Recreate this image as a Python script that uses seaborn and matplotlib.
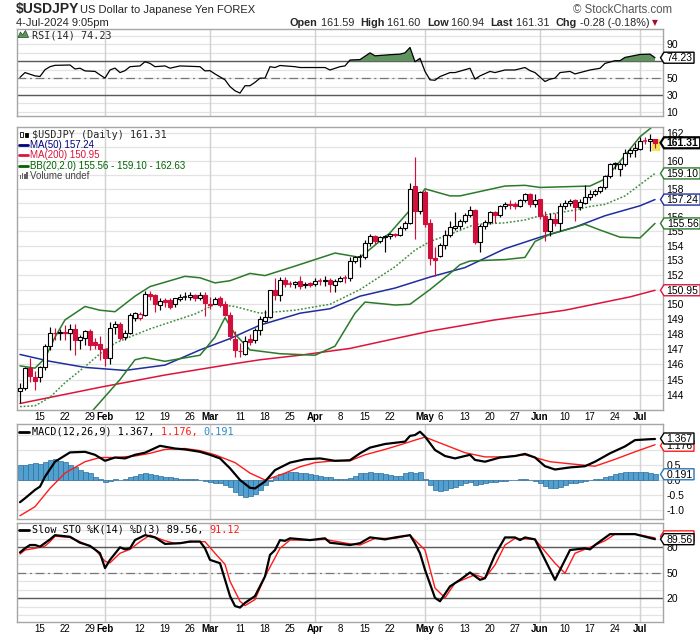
import numpy as np
import pandas as pd
import matplotlib
matplotlib.use("Agg")
import matplotlib.pyplot as plt
import seaborn as sns
from matplotlib.patches import Polygon, Rectangle
from matplotlib.lines import Line2D
from matplotlib.ticker import FixedLocator, FixedFormatter, NullLocator

# ---------------- data ----------------
dates = pd.bdate_range("2024-01-09", "2024-07-04")

opens = [144.25, 144.45, 145.75, 145.20, 145.15, 145.80, 147.20, 148.10, 148.05, 148.15,
         148.10, 148.35, 147.60, 147.75, 148.20, 147.50, 147.35, 147.00, 146.40, 148.50,
         148.65, 147.80, 148.05, 149.10, 149.10, 149.30, 150.70, 150.60, 149.95, 150.30,
         150.30, 150.00, 150.35, 150.50, 150.52, 150.60, 150.45, 150.65, 149.95, 150.05,
         150.40, 150.00, 149.30, 147.70, 146.90, 146.70, 147.65, 147.60, 148.30, 148.90,
         149.15, 151.00, 150.60, 151.65, 151.40, 151.40, 151.55, 151.30, 151.45, 151.35,
         151.60, 151.57, 151.65, 151.30, 151.60, 151.80, 151.80, 152.95, 153.22, 153.25,
         154.20, 154.70, 154.35, 154.60, 154.65, 154.85, 154.75, 155.25, 155.60, 158.20,
         156.40, 157.75, 155.60, 153.15, 153.30, 154.05, 154.75, 155.25, 155.35, 155.75,
         156.15, 156.50, 154.25, 155.35, 155.65, 156.35, 156.15, 156.75, 156.95, 156.90,
         156.80, 157.20, 157.60, 156.90, 157.25, 156.05, 155.05, 155.90, 155.60, 156.80,
         157.00, 157.20, 156.70, 157.00, 157.40, 157.65, 157.85, 158.10, 158.90, 159.85,
         159.40, 159.80, 160.55, 160.80, 160.85, 161.45, 161.45, 161.59]
highs = [144.75, 145.85, 146.45, 145.55, 145.90, 147.35, 148.50, 148.40, 148.35, 148.60,
         148.70, 148.70, 147.95, 148.30, 148.35, 147.75, 147.90, 147.10, 148.80, 148.90,
         148.80, 148.30, 149.40, 149.50, 149.50, 150.90, 150.90, 150.70, 150.40, 150.40,
         150.40, 150.45, 150.70, 150.80, 150.85, 150.70, 150.85, 150.80, 150.50, 150.50,
         150.55, 150.20, 149.45, 148.20, 147.40, 147.90, 148.00, 148.40, 149.20, 149.60,
         151.00, 151.80, 151.85, 151.85, 151.60, 151.55, 151.95, 151.50, 151.50, 151.80,
         151.80, 151.95, 151.80, 151.75, 151.90, 152.00, 153.20, 153.30, 153.45, 154.40,
         154.80, 154.75, 154.70, 154.75, 154.90, 154.90, 155.35, 155.75, 158.40, 160.25,
         157.85, 157.95, 155.90, 153.95, 154.20, 155.10, 155.75, 156.35, 155.90, 156.30,
         156.80, 156.60, 155.50, 155.80, 156.45, 156.45, 156.85, 157.10, 157.20, 157.10,
         157.30, 157.70, 157.70, 157.60, 157.30, 156.40, 156.30, 156.30, 157.00, 157.20,
         157.25, 157.30, 157.30, 158.25, 157.90, 158.00, 158.20, 159.00, 159.85, 159.95,
         159.90, 160.85, 160.90, 161.30, 161.70, 161.75, 161.95, 161.60]
lows = [143.45, 144.35, 144.85, 144.35, 144.85, 145.60, 146.95, 147.60, 147.60, 147.60,
        146.95, 146.60, 147.00, 147.30, 146.95, 147.00, 146.30, 145.90, 146.00, 148.00,
        147.60, 147.60, 148.00, 148.90, 148.95, 149.20, 150.30, 149.50, 149.60, 149.85,
        149.70, 149.80, 150.20, 150.30, 150.30, 150.20, 150.30, 149.20, 149.70, 150.00,
        149.85, 149.20, 147.60, 146.50, 146.50, 146.60, 147.30, 147.40, 147.95, 148.80,
        149.10, 150.30, 150.25, 151.20, 151.15, 151.10, 151.05, 151.10, 151.15, 151.25,
        151.30, 151.25, 150.80, 150.80, 151.50, 151.45, 151.60, 152.80, 152.55, 153.10,
        154.00, 154.10, 154.20, 153.60, 154.50, 154.60, 154.70, 155.10, 155.50, 154.50,
        156.20, 155.30, 152.65, 151.90, 153.20, 153.80, 154.60, 155.10, 155.20, 155.60,
        156.00, 154.10, 153.60, 155.20, 155.50, 155.60, 156.00, 156.60, 156.60, 156.55,
        156.70, 157.10, 156.70, 156.70, 155.90, 154.30, 154.70, 155.40, 155.00, 156.60,
        156.80, 155.70, 156.50, 156.90, 157.20, 157.50, 157.70, 158.00, 158.75, 159.40,
        158.95, 159.60, 160.30, 160.30, 160.80, 161.20, 160.75, 160.94]
closes = [144.45, 145.75, 145.25, 144.90, 145.80, 147.20, 148.10, 148.05, 148.15, 148.10,
          148.35, 147.60, 147.80, 148.20, 147.30, 147.25, 147.00, 146.40, 148.40, 148.70,
          147.75, 148.05, 149.30, 149.40, 149.35, 150.70, 150.55, 150.00, 150.25, 150.15,
          149.85, 150.40, 150.50, 150.52, 150.60, 150.45, 150.60, 150.10, 150.05, 150.35,
          149.95, 149.30, 147.85, 146.95, 146.85, 147.55, 147.50, 148.30, 149.00, 149.15,
          150.95, 150.60, 151.65, 151.40, 151.37, 151.50, 151.25, 151.40, 151.30, 151.60,
          151.57, 151.62, 151.35, 151.60, 151.80, 151.77, 152.95, 153.20, 153.25, 154.20,
          154.70, 154.35, 154.60, 154.65, 154.80, 154.75, 155.25, 155.60, 158.00, 156.40,
          157.75, 155.50, 153.15, 153.05, 154.05, 154.75, 155.30, 155.40, 155.75, 156.15,
          156.50, 154.25, 155.35, 155.65, 156.35, 156.15, 156.75, 156.90, 156.87, 156.82,
          157.20, 157.60, 156.90, 157.20, 156.05, 155.05, 155.85, 155.60, 156.75, 157.00,
          157.15, 156.70, 157.05, 157.40, 157.65, 157.85, 158.10, 158.90, 159.75, 159.75,
          159.80, 160.55, 160.80, 160.90, 161.45, 161.43, 161.59, 161.31]

ma50_idx = [0, 6, 13, 21, 29, 36, 42, 48, 56, 62, 68, 75, 82, 89, 97, 104, 111, 117, 124, 127]
ma50_val = [146.65, 146.2, 145.8, 145.6, 145.95, 146.95, 147.7, 148.6, 149.4, 149.7, 150.55,
            151.1, 151.85, 152.5, 153.8, 154.6, 155.3, 156.1, 156.8, 157.24]
ma200_idx = [0, 16, 29, 43, 48, 56, 66, 75, 82, 95, 109, 122, 127]
ma200_val = [143.45, 144.5, 145.3, 146.05, 146.3, 146.6, 147.05, 147.7, 148.2, 148.95, 149.6, 150.5, 150.95]
bbu_idx = [0, 3, 5, 7, 9, 13, 16, 19, 23, 26, 33, 36, 39, 42, 46, 49, 55, 63, 68, 74, 78, 81,
           86, 88, 97, 101, 104, 114, 117, 121, 124, 127]
bbu_val = [145.9, 145.75, 146.4, 147.8, 148.95, 149.85, 149.6, 149.5, 150.55, 151.2, 151.9, 151.8,
           151.45, 151.6, 152.1, 151.95, 152.6, 153.5, 153.2, 154.9, 156.5, 158.0, 157.5, 157.5,
           158.2, 158.25, 158.1, 158.2, 158.7, 160.4, 161.75, 162.63]
bbm_idx = [0, 3, 6, 9, 13, 16, 19, 23, 26, 35, 39, 43, 48, 55, 62, 68, 75, 79, 82, 86, 91, 97,
           101, 104, 111, 114, 117, 121, 124, 127]
bbm_val = [143.25, 143.3, 143.85, 144.8, 145.85, 146.7, 147.4, 147.95, 148.35, 149.35, 150.0,
           149.85, 149.4, 149.6, 150.0, 151.0, 152.55, 153.7, 154.3, 154.8, 155.5, 155.6, 155.8,
           156.1, 156.5, 156.75, 156.9, 157.5, 158.3, 159.10]
bbl_idx = [14, 20, 23, 25, 29, 36, 39, 41, 43, 46, 52, 59, 63, 67, 69, 75, 78, 82, 86, 88, 90,
           97, 101, 103, 106, 111, 113, 116, 120, 124, 127]
bbl_val = [142.8, 145.0, 146.3, 146.45, 146.2, 146.6, 147.8, 149.1, 148.0, 146.95, 146.7, 146.6,
           147.2, 149.4, 150.15, 149.95, 150.0, 151.0, 152.1, 152.7, 152.95, 153.05, 153.2, 154.3,
           154.8, 155.3, 155.5, 155.1, 154.6, 154.55, 155.56]

rsi_idx = [0, 1, 3, 4, 5, 6, 7, 10, 11, 12, 13, 15, 16, 17, 18, 19, 20, 21, 22, 24, 25, 26, 27,
           29, 30, 32, 36, 37, 38, 39, 41, 42, 43, 44, 45, 46, 47, 48, 49, 50, 51, 52, 55, 56, 58,
           61, 62, 64, 65, 66, 68, 70, 71, 74, 76, 77, 78, 79, 80, 81, 82, 83, 84, 86, 87, 90, 91,
           92, 94, 95, 97, 99, 101, 102, 103, 105, 106, 107, 108, 110, 111, 114, 116, 117, 119,
           120, 121, 124, 126, 127]
rsi_val = [51, 56.6, 52.7, 52.0, 60, 63.6, 65.2, 65.6, 60.9, 61.8, 58.6, 58.0, 53.9, 50.0, 59.7,
           61.9, 56.6, 58.9, 63.6, 64.5, 69.5, 67.5, 63.6, 64.5, 61.8, 64.5, 63.6, 58.6, 58.9, 55.0,
           48, 40, 35, 32.3, 41, 41, 45, 50, 50, 63.6, 62.6, 65, 63.6, 62.6, 62.6, 62.6, 59.7, 63.6,
           64.5, 71.5, 72, 80, 76.5, 77.8, 78.5, 80, 86.4, 69.5, 73.5, 58, 48, 47.5, 51.9, 56.6,
           56.6, 61.7, 48.8, 52.7, 58, 56.6, 59.7, 59.7, 62.6, 58.9, 56.6, 46, 48.8, 50, 56.6, 58,
           55, 59.7, 61.7, 67.5, 70.7, 70.7, 74.6, 78.1, 78.5, 74.23]

macd_idx = [0, 1, 3, 4, 5, 7, 10, 13, 15, 17, 19, 21, 23, 25, 28, 31, 33, 36, 38, 40, 42, 44, 46,
            47, 49, 51, 54, 57, 60, 63, 66, 68, 70, 73, 77, 78, 79, 80, 81, 83, 85, 87, 90, 91, 93,
            96, 99, 101, 103, 105, 107, 110, 113, 115, 118, 121, 123, 126, 127]
macd_val = [-0.74, -0.61, -0.33, -0.22, 0.11, 0.61, 0.92, 0.94, 0.84, 0.64, 0.75, 0.72, 0.84, 0.91,
            1.14, 1.05, 1.02, 0.94, 0.84, 0.72, 0.39, 0.0, -0.26, -0.28, -0.05, 0.33, 0.58, 0.69,
            0.72, 0.64, 0.66, 0.89, 1.08, 1.20, 1.28, 1.47, 1.50, 1.61, 1.45, 1.00, 0.80, 0.72,
            0.84, 0.67, 0.61, 0.75, 0.80, 0.87, 0.75, 0.46, 0.35, 0.42, 0.46, 0.61, 0.89, 1.12,
            1.33, 1.36, 1.367]
sig_idx = [0, 3, 6, 9, 13, 16, 19, 23, 26, 29, 33, 36, 39, 43, 46, 49, 51, 53, 56, 59, 63, 66, 69,
           73, 76, 79, 81, 85, 89, 93, 97, 101, 106, 110, 115, 119, 123, 127]
sig_val = [-1.19, -0.89, -0.28, 0.23, 0.61, 0.75, 0.75, 0.80, 0.89, 1.02, 1.05, 0.98, 0.84, 0.58,
           0.23, 0.0, 0.11, 0.23, 0.44, 0.58, 0.64, 0.64, 0.84, 1.02, 1.17, 1.33, 1.43, 1.17, 0.91,
           0.77, 0.77, 0.84, 0.61, 0.54, 0.46, 0.69, 0.94, 1.176]
hist_val = [0.50, 0.50, 0.54, 0.56, 0.54, 0.59, 0.67, 0.70, 0.64, 0.59, 0.50, 0.44, 0.33, 0.28,
            0.23, 0.11, 0.05, -0.05, -0.02, 0.02, 0.00, 0.02, 0.09, 0.13, 0.20, 0.23, 0.20, 0.17,
            0.13, 0.11, 0.09, 0.06, 0.04, 0.03, 0.02, 0.02, 0.00, -0.02, -0.05, -0.09, -0.11,
            -0.15, -0.23, -0.39, -0.50, -0.56, -0.52, -0.45, -0.32, -0.18, -0.04, 0.10, 0.20,
            0.25, 0.28, 0.28, 0.25, 0.23, 0.20, 0.17, 0.13, 0.11, 0.09, 0.05, 0.02, 0.02, 0.07,
            0.13, 0.22, 0.25, 0.28, 0.25, 0.23, 0.20, 0.17, 0.13, 0.13, 0.25, 0.28, 0.23, 0.28,
            0.02, -0.16, -0.33, -0.36, -0.33, -0.28, -0.23, -0.16, -0.11, -0.05, -0.16, -0.14,
            -0.11, -0.08, -0.05, -0.03, -0.02, 0.00, 0.00, 0.02, 0.02, 0.00, -0.03, -0.11, -0.20,
            -0.25, -0.26, -0.23, -0.16, -0.11, -0.09, -0.05, -0.02, 0.00, 0.02, 0.05, 0.09, 0.13,
            0.19, 0.23, 0.26, 0.28, 0.28, 0.28, 0.28, 0.25, 0.191]

stok_idx = [0, 1, 2, 3, 4, 6, 7, 10, 12, 14, 16, 17, 18, 20, 21, 22, 23, 25, 27, 29, 32, 34, 36,
            37, 38, 40, 41, 42, 43, 44, 45, 47, 49, 50, 51, 52, 53, 54, 58, 61, 62, 66, 68, 70, 73,
            75, 78, 79, 80, 81, 83, 84, 86, 88, 90, 92, 93, 95, 97, 99, 100, 101, 103, 106, 107,
            110, 113, 114, 115, 118, 121, 123, 127]
stok_val = [74, 78.8, 82.7, 82.7, 80.8, 89.3, 94.3, 92.4, 85.4, 81.7, 73, 55.5, 65.2, 80, 77.6,
            78.8, 88.5, 94.3, 91.6, 84, 84.8, 86.8, 86.8, 78.8, 65.2, 61.3, 42, 22.6, 10.9, 9.1,
            14.6, 22.6, 45.7, 71, 76.8, 88.5, 87.6, 90.6, 88.5, 90.6, 85.4, 82.7, 84.8, 91.7, 89.3,
            91.6, 94.3, 84.6, 73, 53.5, 20.5, 16.5, 34, 41.7, 50.4, 41.7, 43.6, 71, 91.6, 91.6,
            88.5, 91.6, 89.3, 53.5, 41.7, 76.8, 78.8, 77.6, 82.7, 95.5, 95.5, 95.5, 89.56]
stod_idx = [0, 1, 3, 5, 6, 7, 10, 13, 15, 17, 18, 20, 22, 24, 26, 29, 31, 35, 37, 39, 41, 42, 44,
            45, 47, 49, 52, 54, 58, 61, 66, 68, 71, 75, 78, 81, 83, 85, 87, 91, 93, 95, 97, 99, 103,
            107, 109, 111, 114, 117, 119, 123, 127]
stod_val = [72, 76.8, 78.8, 81.5, 86.6, 93, 91.6, 84, 77.6, 63.6, 61.7, 73, 77.6, 86.6, 94.3, 87.7,
            84.6, 86.6, 86.6, 73, 60, 40, 16.5, 11.4, 18.5, 45.7, 78.8, 88.5, 88.5, 89.3, 84, 82.7,
            90.5, 90.5, 94.3, 76.8, 32.1, 20.5, 38, 47.7, 43.6, 59.3, 82.7, 90.5, 89.3, 61.3, 49.6,
            73, 80, 87.7, 95.5, 95.5, 91.12]

month_idx = [17, 38, 59, 81, 104, 124]
xtick_idx = [4, 9, 14, 17, 24, 29, 34, 38, 44, 49, 54, 59, 64, 69, 74, 81, 84, 89, 94, 99, 104,
             109, 114, 119, 124]
xtick_lab = ["15", "22", "29", "Feb", "12", "19", "26", "Mar", "11", "18", "25", "Apr", "8", "15",
             "22", "May", "6", "13", "20", "27", "Jun", "10", "17", "24", "Jul"]

rsi_ticks = [10, 30, 50, 70, 90]
price_ticks = list(range(144, 163))
macd_ticks = [-1.0, -0.5, 0.0, 0.5, 1.0, 1.5]
sto_ticks = [20, 50, 80]

# ---------------- style ----------------
sns.set_style("white")
plt.rcParams['font.family'] = ['Liberation Sans', 'DejaVu Sans']

W, H = 700, 639
fig = plt.figure(figsize=(W / 100, H / 100), dpi=100)
fig.patch.set_facecolor('white')
renderer = fig.canvas.get_renderer()


def fx(x):
    return x / W


def fy(y):
    return 1 - y / H


def add_ax(l, t, r, b):
    return fig.add_axes([l / W, 1 - b / H, (r - l) / W, (b - t) / H])


GRID = '#e3e3e3'
VGRID = '#d2d2d2'
SPINE = '#a6a6a6'
RED = '#d0103a'
n = len(closes)


def val_to_py(ax, v):
    return H - ax.transData.transform((0, v))[1]


def style(ax, ylim, ticks, labels, grid_vals, tag_vals=()):
    ax.set_xlim(-0.6, 128.6)
    ax.set_ylim(*ylim)
    ax.set_facecolor('white')
    for s in ax.spines.values():
        s.set_color(SPINE)
        s.set_linewidth(1.0)
    ax.tick_params(axis='x', bottom=False, labelbottom=False)
    ax.yaxis.tick_right()
    shown = []
    for t, lab in zip(ticks, labels):
        ty = val_to_py(ax, t)
        if any(abs(ty - val_to_py(ax, v)) < 5.5 for v in tag_vals):
            shown.append('')
        else:
            shown.append(lab)
    ax.yaxis.set_major_locator(FixedLocator(ticks))
    ax.yaxis.set_major_formatter(FixedFormatter(shown))
    ax.yaxis.set_minor_locator(NullLocator())
    ax.tick_params(axis='y', which='both', length=0, pad=2.5, labelsize=7.5, colors='black')
    for g in grid_vals:
        ax.axhline(g, color=GRID, lw=0.9, zorder=0)
    for m in month_idx:
        ax.axvline(m, color=VGRID, lw=0.9, zorder=0)
    ax.set_xlabel('')
    ax.set_ylabel('')


ax_rsi = add_ax(17, 29, 663, 116)
ax_main = add_ax(17, 127, 663, 410)
ax_macd = add_ax(17, 424, 663, 519)
ax_sto = add_ax(17, 523, 663, 622)

rsi_tags = [rsi_val[-1]]
main_tags = [closes[-1], bbm_val[-1], ma50_val[-1], bbl_val[-1], ma200_val[-1]]
macd_tags = [macd_val[-1], sig_val[-1], hist_val[-1]]
sto_tags = [stok_val[-1], stod_val[-1]]

# ---------------- RSI ----------------
style(ax_rsi, (5.1, 108.3), rsi_ticks, [str(t) for t in rsi_ticks], list(range(10, 101, 10)))
ax_rsi.axhline(70, color='#5a5a5a', lw=1.0, zorder=1)
ax_rsi.axhline(30, color='#5a5a5a', lw=1.0, zorder=1)
ax_rsi.axhline(50, color='#777777', lw=0.9, ls=(0, (7, 3, 1.5, 3)), zorder=1)
rsi_arr = np.array(rsi_val, dtype=float)
ax_rsi.fill_between(rsi_idx, rsi_arr, 70, where=rsi_arr > 70, interpolate=True,
                    color='#5f945f', lw=0, zorder=2)
sns.lineplot(x=rsi_idx, y=rsi_val, ax=ax_rsi, color='black', lw=0.9, zorder=3, legend=False)
style(ax_rsi, (5.1, 108.3), rsi_ticks, [str(t) for t in rsi_ticks], [], rsi_tags)

# ---------------- main price ----------------
ax_main.set_yscale('log')
style(ax_main, (143.03, 162.46), price_ticks, [str(t) for t in price_ticks], list(range(143, 163)))

ax_main.add_patch(Rectangle((126.45, 160.74), 1.45, 0.82, fc='#f3e35a', ec='none', zorder=1))

sns.lineplot(x=ma200_idx, y=ma200_val, ax=ax_main, color='#dc143c', lw=1.1, zorder=2, legend=False)
sns.lineplot(x=ma50_idx, y=ma50_val, ax=ax_main, color='#1f2e9c', lw=1.1, zorder=2, legend=False)
sns.lineplot(x=bbu_idx, y=bbu_val, ax=ax_main, color='#2a7a2a', lw=1.1, zorder=2, legend=False)
sns.lineplot(x=bbl_idx, y=bbl_val, ax=ax_main, color='#2a7a2a', lw=1.1, zorder=2, legend=False)
sns.lineplot(x=bbm_idx, y=bbm_val, ax=ax_main, color='#3f8f3f', lw=1.1, ls=(0, (1.2, 1.2)),
             zorder=2, legend=False)

prev_close = [opens[0]] + closes[:-1]
edge_cols, fill_cols, body_idx, body_bot, body_h = [], [], [], [], []
for k in range(n):
    o, h, l, c = opens[k], highs[k], lows[k], closes[k]
    ec = RED if c < prev_close[k] else 'black'
    fc = 'white' if c >= o else ec
    ax_main.vlines(k, l, h, color=ec, lw=0.85, zorder=3)
    if abs(c - o) < 0.04:
        ax_main.hlines(c, k - 0.45, k + 0.45, color=ec, lw=1.1, zorder=4)
    else:
        body_idx.append(k)
        body_bot.append(min(o, c))
        body_h.append(abs(c - o))
        edge_cols.append(ec)
        fill_cols.append(fc)
ax_main.bar(body_idx, body_h, bottom=body_bot, width=0.76, color=fill_cols,
            edgecolor=edge_cols, linewidth=0.8, zorder=4)
style(ax_main, (143.03, 162.46), price_ticks, [str(t) for t in price_ticks], [], main_tags)

# ---------------- MACD ----------------
macd_labels = ['-1.0', '-0.5', '0.0', '0.5', '1.0', '1.5']
style(ax_macd, (-1.3, 1.867), macd_ticks, macd_labels, macd_ticks)
ax_macd.bar(range(n), hist_val, width=1.0, color='#52a0d0', edgecolor='#2f6f9c',
            linewidth=0.5, zorder=2)
sns.lineplot(x=sig_idx, y=sig_val, ax=ax_macd, color='#ff1a1a', lw=1.0, zorder=3, legend=False)
sns.lineplot(x=macd_idx, y=macd_val, ax=ax_macd, color='black', lw=1.6, zorder=4, legend=False)
style(ax_macd, (-1.3, 1.867), macd_ticks, macd_labels, [], macd_tags)

# ---------------- Slow STO ----------------
style(ax_sto, (-7.9, 108.6), sto_ticks, [str(t) for t in sto_ticks], list(range(0, 101, 10)))
ax_sto.axhline(80, color='#5a5a5a', lw=1.0, zorder=1)
ax_sto.axhline(20, color='#5a5a5a', lw=1.0, zorder=1)
ax_sto.axhline(50, color='#777777', lw=0.9, ls=(0, (7, 3, 1.5, 3)), zorder=1)
sns.lineplot(x=stod_idx, y=stod_val, ax=ax_sto, color='#ff1a1a', lw=1.0, zorder=3, legend=False)
sns.lineplot(x=stok_idx, y=stok_val, ax=ax_sto, color='black', lw=1.6, zorder=4, legend=False)
style(ax_sto, (-7.9, 108.6), sto_ticks, [str(t) for t in sto_ticks], [], sto_tags)


# ---------------- x labels ----------------
def xlabels(ax, base_y):
    for k, lab in zip(xtick_idx, xtick_lab):
        xd = ax.transData.transform((k, ax.get_ylim()[0]))[0]
        fig.text(xd / W, fy(base_y), lab, ha='center', va='baseline', fontsize=7,
                 weight='bold' if lab.isalpha() else 'normal', color='black')


xlabels(ax_main, 420.5)
xlabels(ax_sto, 632)


# ---------------- helpers ----------------
def fig_line(x0, x1, y, color, lw=2.0):
    fig.add_artist(Line2D([fx(x0), fx(x1)], [fy(y), fy(y)], transform=fig.transFigure,
                          color=color, lw=lw))


def fig_rect(x, y, w, h, fc, ec='none', lw=0.8):
    fig.add_artist(Rectangle((fx(x), fy(y + h)), w / W, h / H, transform=fig.transFigure,
                             fc=fc, ec=ec, lw=lw))


def text_run(x, base_y, pieces, **kw):
    """Draw consecutive coloured text pieces on one baseline; returns right edge."""
    for s, col in pieces:
        t = fig.text(fx(x), fy(base_y), s, color=col, va='baseline', **kw)
        x = t.get_window_extent(renderer).x1
    return x


def tag(ax, v, text, ec, bold=False, lw=1.0, z=20, dy=0.0, show_text=True):
    yc = val_to_py(ax, v) + dy
    xt, x0 = 660.5, 664.0
    w = 6.2 * len(text) - 1
    h = 5.5
    pts = [(fx(xt), fy(yc)), (fx(x0), fy(yc - h)), (fx(x0 + w), fy(yc - h)),
           (fx(x0 + w), fy(yc + h)), (fx(x0), fy(yc + h))]
    fig.add_artist(Polygon(pts, closed=True, transform=fig.transFigure, fc='white', ec=ec,
                           lw=lw, zorder=z))
    if show_text:
        fig.text(fx(x0 + w / 2 + 0.5), fy(yc + 3.6), text, ha='center', va='baseline',
                 fontsize=7.5, weight='bold' if bold else 'normal', color='black', zorder=z + 1)


# ---------------- header ----------------
fig.text(fx(16), fy(13), "$USDJPY", fontsize=10, weight='bold', va='baseline')
fig.text(fx(80), fy(13), "US Dollar to Japanese Yen FOREX", fontsize=8, va='baseline')
fig.text(fx(16), fy(26), "4-Jul-2024 9:05pm", fontsize=8, va='baseline')
fig.text(fx(573), fy(13), "\u00a9 StockCharts.com", fontsize=8.3, color='#555555', va='baseline')
hdr = [("Open", True), (" 161.59  ", False), ("High", True), (" 161.60  ", False),
       ("Low", True), (" 160.94  ", False), ("Last", True), (" 161.31  ", False),
       ("Chg", True), (" -0.28 (-0.18%)", False)]
xh = 290
for s, b in hdr:
    t = fig.text(fx(xh), fy(26), s, fontsize=7.8, weight='bold' if b else 'normal', va='baseline')
    xh = t.get_window_extent(renderer).x1
fig.text(fx(xh + 2.5), fy(25.5), "\u25bc", fontsize=5.5, color='#a0102a', va='baseline',
         family='DejaVu Sans')

# ---------------- panel legends ----------------
MONO = 'DejaVu Sans Mono'
fig.add_artist(Polygon([(fx(18), fy(37.5)), (fx(20.5), fy(32)), (fx(22.5), fy(35)),
                        (fx(25.5), fy(30.5)), (fx(28.5), fy(37.5))], closed=True,
                       transform=fig.transFigure, fc='#5f945f', ec='#2f5f2f', lw=0.6))
fig.text(fx(32), fy(38), f"RSI(14) {rsi_val[-1]:.2f}", fontsize=7.3, family=MONO, va='baseline')

fig_rect(19.5, 131.5, 3, 5, 'white', 'black', 0.6)
fig_rect(24.5, 132.5, 3, 4, 'black', 'black', 0.6)
fig.text(fx(32), fy(137.5), f"$USDJPY (Daily) {closes[-1]:.2f}", fontsize=7.3, family=MONO,
         va='baseline')
fig_line(19, 28, 144.8, '#000080')
fig.text(fx(29.5), fy(148), f"MA(50) {ma50_val[-1]:.2f}", fontsize=7, color='#000080', va='baseline')
fig_line(19, 28, 155.3, '#dc143c')
fig.text(fx(29.5), fy(158.5), f"MA(200) {ma200_val[-1]:.2f}", fontsize=7, color='#dc143c',
         va='baseline')
fig_line(19, 28, 165.8, '#006400')
fig.text(fx(29.5), fy(169),
         f"BB(20,2.0) {bbl_val[-1]:.2f} - {bbm_val[-1]:.2f} - {bbu_val[-1]:.2f}",
         fontsize=7, color='#006400', va='baseline')
for i, hh in enumerate([4, 6, 5, 7]):
    fig_rect(19.5 + i * 2.3, 179 - hh, 1.6, hh, '#666666')
fig.text(fx(29.5), fy(179), "Volume undef", fontsize=7, color='#444444', va='baseline')

fig_line(19, 28.5, 431.5, 'black')
text_run(32, 435, [(f"MACD(12,26,9) {macd_val[-1]:.3f}, ", 'black'),
                   (f"{sig_val[-1]:.3f}, ", '#ff1a1a'),
                   (f"{hist_val[-1]:.3f}", '#2a8ac8')], fontsize=7.3, family=MONO)

fig_line(19, 28.5, 529.5, 'black')
text_run(32, 533, [(f"Slow STO %K(14) %D(3) {stok_val[-1]:.2f}, ", 'black'),
                   (f"{stod_val[-1]:.2f}", '#ff1a1a')], fontsize=7.3, family=MONO)

# ---------------- right value tags ----------------
tag(ax_rsi, rsi_val[-1], f"{rsi_val[-1]:.2f}", 'black')
tag(ax_main, bbm_val[-1], f"{bbm_val[-1]:.2f}", '#2a7a2a')
tag(ax_main, ma50_val[-1], f"{ma50_val[-1]:.2f}", '#1f2e9c')
tag(ax_main, bbl_val[-1], f"{bbl_val[-1]:.2f}", '#2a7a2a')
tag(ax_main, ma200_val[-1], f"{ma200_val[-1]:.2f}", '#dc143c')
tag(ax_main, closes[-1], f"{closes[-1]:.2f}", 'black', bold=True, lw=1.6, z=30)
tag(ax_macd, sig_val[-1], f"{sig_val[-1]:.3f}", '#ff1a1a', z=20, dy=1.0)
tag(ax_macd, macd_val[-1], f"{macd_val[-1]:.3f}", 'black', z=30, dy=-0.5)
tag(ax_macd, hist_val[-1], f"{hist_val[-1]:.3f}", '#2a77b8', z=20)
tag(ax_sto, stod_val[-1], f"{stod_val[-1]:.2f}", '#ff1a1a', z=20, dy=-1.5, show_text=False)
tag(ax_sto, stok_val[-1], f"{stok_val[-1]:.2f}", 'black', z=30)

fig.savefig("out.png", dpi=100, facecolor='white')
